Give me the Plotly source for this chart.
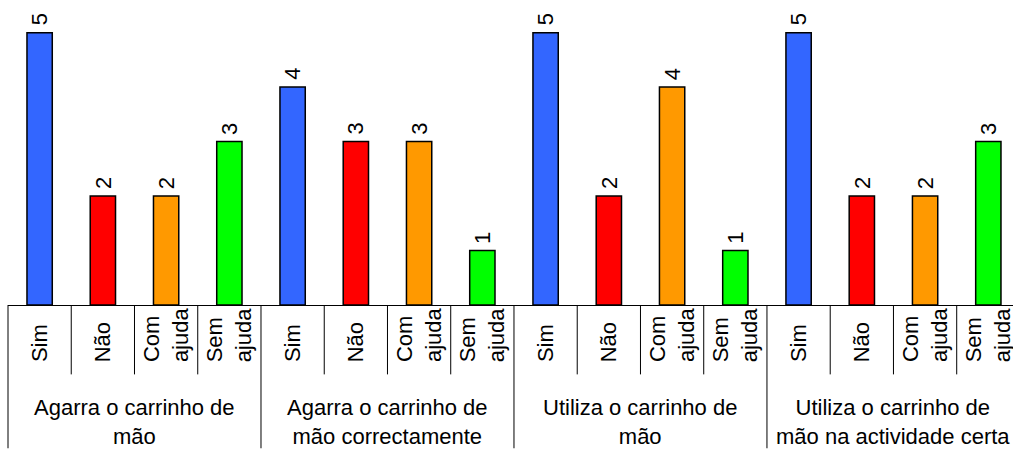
import plotly.graph_objects as go

groups = ["Agarra o carrinho de<br>mão",
          "Agarra o carrinho de<br>mão correctamente",
          "Utiliza o carrinho de<br>mão",
          "Utiliza o carrinho de<br>mão na actividade certa"]
options = ["Sim", "Não", "Com<br>ajuda", "Sem<br>ajuda"]

sim = [5, 4, 5, 5]
nao = [2, 3, 2, 2]
com_ajuda = [2, 3, 4, 2]
sem_ajuda = [3, 1, 1, 3]
series = [sim, nao, com_ajuda, sem_ajuda]
colors = ["#3366FF", "#FF0000", "#FF9900", "#00FF00"]

FONT = dict(family="Liberation Sans, Arial, sans-serif", size=22, color="black")
x0, x1 = -0.5, 15.39  # plot runs off the right edge like the original
PLOT_H = 305.5
BOTTOM = 143.5

fig = go.Figure()
for j, vals in enumerate(series):
    xs = [g * 4 + j for g in range(len(groups))]
    fig.add_trace(go.Bar(x=xs, y=vals, width=0.4, marker_color=colors[j],
                         marker_line_color="black", marker_line_width=1.5,
                         showlegend=False))
    for x, v in zip(xs, vals):
        fig.add_annotation(x=x, y=v, text=str(v), textangle=-90, showarrow=False,
                           yanchor="bottom", xanchor="center", yshift=5, font=FONT)


def px(v):
    return (v - x0) / (x1 - x0)


# category labels and separators under the axis
for g in range(len(groups)):
    for j, opt in enumerate(options):
        k = g * 4 + j
        fig.add_annotation(x=k, y=0, yref="paper", text=opt, textangle=-90, align="left",
                           showarrow=False, yanchor="bottom", xanchor="center",
                           yshift=-59.5, font=FONT)
    fig.add_annotation(x=g * 4 + 1.5, y=0, yref="paper", text=groups[g], showarrow=False,
                       yanchor="middle", xanchor="center", yshift=-117, font=FONT)

for k in range(len(groups) * 4 + 1):
    bottom = -BOTTOM / PLOT_H if k % 4 == 0 else -69.5 / PLOT_H
    fig.add_shape(type="line", xref="paper", yref="paper", x0=px(k - 0.5), x1=px(k - 0.5),
                  y0=0, y1=bottom, line=dict(color="black", width=1))

fig.update_layout(
    width=1013, height=449,
    margin=dict(l=8, r=0, t=0, b=BOTTOM),
    plot_bgcolor="white", paper_bgcolor="white",
    barmode="overlay",
    font=FONT,
)
fig.update_xaxes(range=[x0, x1], showgrid=False, zeroline=False, showticklabels=False,
                 showline=True, linecolor="black", linewidth=1, ticks="")
fig.update_yaxes(range=[0, PLOT_H / 54.56], showgrid=False, zeroline=False,
                 showticklabels=False, showline=False)

fig.write_html("out.html", config={"responsive": False, "displayModeBar": False},
               post_script="document.body.style.margin = '0';")
